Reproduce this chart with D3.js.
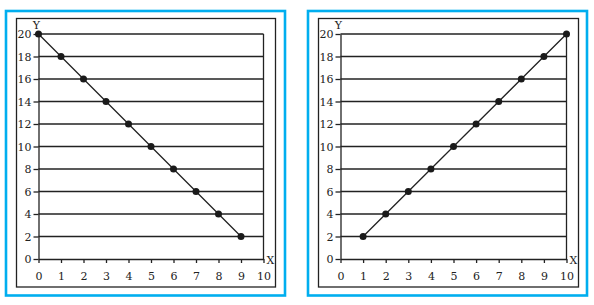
<!DOCTYPE html>
<html>
<head>
<meta charset="utf-8">
<script src="https://cdn.jsdelivr.net/npm/d3@7"></script>
<style>
  body { margin: 0; background: #fff; }
  .axis text { font-family: "DejaVu Serif", serif; font-size: 11px; fill: #222; }
  .axis path, .axis line { stroke: #222; stroke-width: 1.3; }
</style>
</head>
<body>
<div id="chart"></div>
<script>
// values
const xTicks = [0, 1, 2, 3, 4, 5, 6, 7, 8, 9, 10];
const yTicks = [0, 2, 4, 6, 8, 10, 12, 14, 16, 18, 20];
const leftX = [0, 1, 2, 3, 4, 5, 6, 7, 8, 9];
const leftY = [20, 18, 16, 14, 12, 10, 8, 6, 4, 2];
const rightX = [1, 2, 3, 4, 5, 6, 7, 8, 9, 10];
const rightY = [2, 4, 6, 8, 10, 12, 14, 16, 18, 20];

const svg = d3.select("#chart").append("svg")
    .attr("width", 594)
    .attr("height", 305);

function drawPanel(xs, ys, box) {
    let g = svg.append("g");

    // blue outer border + black frame
    g.append("rect")
        .attr("x", box.blue[0]).attr("y", 11)
        .attr("width", box.blue[1] - box.blue[0]).attr("height", 284.5)
        .attr("fill", "none").attr("stroke", "#00aeef").attr("stroke-width", 2.6);
    g.append("rect")
        .attr("x", box.frame[0]).attr("y", 18.5)
        .attr("width", box.frame[1] - box.frame[0]).attr("height", 268.5)
        .attr("fill", "none").attr("stroke", "#222").attr("stroke-width", 1.3);

    let x = d3.scaleLinear().domain([0, 10]).range([box.x0, box.x1]);
    let y = d3.scaleLinear().domain([0, 20]).range([259, 34]);

    // horizontal grid
    g.selectAll(".grid")
        .data(yTicks.filter(d => d > 0))
        .enter().append("line")
        .attr("class", "grid")
        .attr("x1", x(0)).attr("x2", x(10))
        .attr("y1", d => y(d)).attr("y2", d => y(d))
        .attr("stroke", "#222").attr("stroke-width", 1.3);

    // right edge
    g.append("line")
        .attr("x1", x(10)).attr("x2", x(10))
        .attr("y1", y(20)).attr("y2", y(0))
        .attr("stroke", "#222").attr("stroke-width", 1.3);

    g.append("g")
        .attr("class", "axis")
        .attr("transform", "translate(0," + y(0) + ")")
        .call(d3.axisBottom(x).tickValues(xTicks).tickSize(4).tickSizeOuter(0).tickPadding(9));

    g.append("g")
        .attr("class", "axis")
        .attr("transform", "translate(" + x(0) + ",0)")
        .call(d3.axisLeft(y).tickValues(yTicks).tickSize(5).tickSizeOuter(0).tickPadding(2));

    // axis names
    g.append("text")
        .attr("x", x(0) - 2).attr("y", 29)
        .attr("text-anchor", "middle")
        .attr("font-family", "DejaVu Serif, serif").attr("font-size", 11).attr("fill", "#222")
        .text("Y");
    g.append("text")
        .attr("x", x(10) + 7).attr("y", 263.5)
        .attr("text-anchor", "middle")
        .attr("font-family", "DejaVu Serif, serif").attr("font-size", 11).attr("fill", "#222")
        .text("X");

    let pts = xs.map((d, i) => ({x: d, y: ys[i]}));

    g.append("path")
        .datum(pts)
        .attr("fill", "none")
        .attr("stroke", "#222")
        .attr("stroke-width", 1.3)
        .attr("d", d3.line().x(d => x(d.x)).y(d => y(d.y)));

    g.selectAll(".dot")
        .data(pts)
        .enter().append("circle")
        .attr("class", "dot")
        .attr("cx", d => x(d.x)).attr("cy", d => y(d.y))
        .attr("r", 3.5)
        .attr("fill", "#1a1a1a");
}

drawPanel(leftX, leftY, {blue: [6, 285], frame: [16.5, 275.5], x0: 38.5, x1: 263.5});
drawPanel(rightX, rightY, {blue: [308, 587], frame: [318.5, 578.5], x0: 340.5, x1: 566.5});
</script>
</body>
</html>
